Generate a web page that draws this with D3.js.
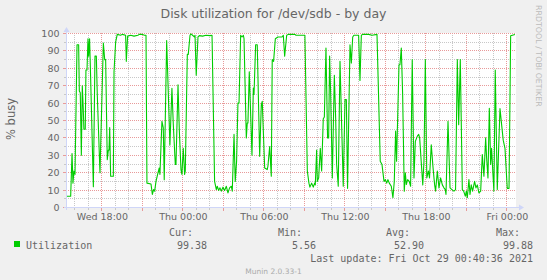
<!DOCTYPE html>
<html><head><meta charset="utf-8">
<script src="https://cdn.jsdelivr.net/npm/d3@7/dist/d3.min.js"></script>
<style>body{margin:0;background:#f0f0f0}</style>
</head><body>
<svg id="c" width="547" height="280"></svg>
<script>
const title = "Disk utilization for /dev/sdb - by day";
const yLabel = "% busy";
const seriesName = "Utilization";
const baseTime = "2021-10-28T00:00:00";   // Thu 00:00
const startTime = "2021-10-27T15:20:36";
const endTime = "2021-10-29T00:40:36";
const hoursFromBase = [
-8.62,-8.56,-8.31,-8.21,-8.14,-8.07,-7.99,-7.84,-7.72,-7.67,-7.60,-7.52,-7.45,-7.38,-7.33,-7.23,-7.18,-7.10,-7.03,-6.98,-6.91,-6.83,-6.63,-6.51,-6.41,-6.34,-6.14,-5.89,-5.79,-5.72,-5.60,-5.52,-5.47,-5.42,-5.35,-5.15,-5.10,-4.98,-4.86,-4.61,-4.49,-4.24,-4.19,-4.09,-3.87,-3.62,-3.33,
-3.23,-2.98,-2.86,-2.73,-2.66,-2.36,-2.26,-2.17,-2.09,-1.99,-1.87,-1.75,-1.70,-1.55,-1.45,-1.38,-1.20,-0.96,-0.81,-0.71,-0.56,-0.51,-0.36,-0.26,-0.14,-0.07,0.03,0.13,0.18,0.33,0.40,0.53,0.60,0.72,0.85,0.90,0.99,1.12,1.22,1.46,1.71,2.01,
2.16,2.35,2.48,2.55,2.65,2.75,2.85,2.97,3.09,3.22,3.34,3.46,3.59,3.66,3.79,3.88,3.98,4.08,4.16,4.28,4.38,4.48,4.53,4.70,4.77,4.82,4.92,5.12,5.22,5.27,5.39,5.51,5.69,5.81,5.88,6.06,6.25,6.30,6.43,6.55,6.62,6.72,6.85,7.04,7.34,
7.44,7.54,7.69,7.81,8.06,8.30,8.38,8.67,8.97,9.04,9.22,9.34,9.41,9.54,9.66,9.76,9.81,9.91,9.96,10.06,10.18,10.28,10.40,10.48,10.60,10.72,10.80,10.87,10.95,11.07,11.22,11.32,11.39,11.51,11.64,11.88,12.01,12.11,12.20,12.38,12.48,12.58,12.67,
13.02,13.12,13.22,13.32,13.76,14.01,14.38,14.62,14.75,14.90,15.00,15.10,15.19,15.29,15.44,15.56,15.66,15.76,15.83,16.01,16.08,16.18,16.28,16.40,16.48,16.55,16.65,16.77,16.87,16.99,17.12,17.22,17.37,17.47,17.54,17.67,17.77,17.86,17.96,
18.07,18.19,18.27,18.40,18.53,18.65,18.72,18.85,18.97,19.09,19.22,19.34,19.44,19.49,19.64,19.79,19.93,20.08,20.20,20.33,20.43,20.55,20.70,20.80,20.92,21.00,21.07,21.19,21.27,21.36,21.46,21.61,21.71,21.81,21.93,22.06,22.18,22.30,22.43,22.50,22.60,22.70,22.80,22.87,22.97,23.04,23.14,23.29,
23.49,23.73,23.86,24.03,24.16,24.28,24.60
];
const utilization = [
6.5,6.5,6.5,31,14,21,19,93.5,93.5,67,66,30,70,57,45,45,79,79,97,87,97,74,12,87,87,65,20,94.5,85,85,27.5,33,33,46,18,18,78,95,99.5,99,99.5,99,84,98.5,99,98.5,99,
99.5,99.5,99,99,14,13.5,7.5,10.3,9.4,15,19,22.7,19,49.5,45.7,16,96,36,68.5,48,24.7,24.7,70.5,44,21.8,19,34,19,21,88,88,99,99.8,99,98,99,76,98,98.8,98.5,99,98.8,
99,15,10.3,12.2,9.8,11.3,9.4,11.7,9.8,12.2,8.4,11.3,12.2,9.4,42,15,26.6,60,60,99,98,99,97,40,48.6,48.6,78,30,68.6,65,93.5,93.5,29.4,59,61,22.7,21.8,23.7,35,18,85,84,97,98,98,
99,87,99,99.5,99.5,99.5,99,99,99,99,21,14,11.7,14,11.7,14,13,33,15,17,34,21,51,52,91.6,40,40,87,65,17,76,51,25,12.2,84,12.2,62,62,11,93.5,83,98,99,
99,73,99,99.5,99.5,99,99.5,26.6,24.7,15,16,14,16,14,12.2,5.6,15,44,26.6,82,82,91.6,65,9.4,20,13.2,16,15,12.2,85,17,38,41,42,40,24.7,13,26.6,85,
17,21,17,36,23,13,9.4,21,11.3,17,13,11.3,10.3,7.5,49.5,11.3,10.3,9.4,10.3,85,47.6,85,10.3,9.4,6.5,9.4,5.6,16,7.5,13,9.4,15,11.3,13,8.4,9.4,30.4,18,40,28.5,17,57,24.7,34,19,9.4,79,10.3,
56.8,38.7,34,11,11,98.7,99.4
];
const yTicks = [0,10,20,30,40,50,60,70,80,90,100];
const xTickFormat = "%a %H:%M";
const statNames = ["Cur:","Min:","Avg:","Max:"];
const statValues = ["99.38","5.56","52.90","99.88"];
const lastUpdate = "Last update: Fri Oct 29 00:40:36 2021";
const version = "Munin 2.0.33-1";
const watermark = "RRDTOOL / TOBI OETIKER";

const svg = d3.select("#c");
const FONT = "#666666", AXIS = "#CFD6F8", GREEN = "#00CC00";
const L = 66, R = 516, T = 33, B = 208;
svg.append("rect").attr("width",547).attr("height",280).attr("fill","#F0F0F0");
svg.append("rect").attr("x",L).attr("y",T).attr("width",R-L).attr("height",B-T).attr("fill","#FFFFFF");

const base = new Date(baseTime);
const pts = hoursFromBase.map((h,i)=>({t:new Date(base.getTime()+h*3600e3), v:utilization[i]}));
const x = d3.scaleTime().domain([new Date(startTime), new Date(endTime)]).range([L, R]);
const y = d3.scaleLinear().domain([0,100]).range([207.5, 33.5]);
const px = v => Math.round(v - 0.5) + 0.5;

const g = svg.append("g");
// minor horizontal (every 5)
d3.range(5,100,10).forEach(v=>{
  g.append("line").attr("x1",L).attr("x2",R).attr("y1",px(y(v))).attr("y2",px(y(v)))
   .attr("stroke","#C8C8C8").attr("stroke-dasharray","1,1");
  g.append("line").attr("x1",L-2).attr("x2",L).attr("y1",px(y(v))).attr("y2",px(y(v))).attr("stroke","#C8C8C8");
});
// vertical hours
const hours = d3.timeHour.range(new Date(startTime), new Date(endTime));
hours.forEach(h=>{
  const major = h.getHours()%3===0;
  const xx = px(x(h));
  g.append("line").attr("x1",xx).attr("x2",xx).attr("y1",T).attr("y2",B)
   .attr("stroke", major? "#E89A9A" : "#C8C8C8").attr("stroke-dasharray","1,1");
  g.append("line").attr("x1",xx).attr("x2",xx).attr("y1",B).attr("y2",B+(major?3:2))
   .attr("stroke", major? "#E89A9A" : "#C8C8C8");
});
// major horizontal
yTicks.forEach(v=>{
  g.append("line").attr("x1",L).attr("x2",R).attr("y1",px(y(v))).attr("y2",px(y(v)))
   .attr("stroke","#E89A9A").attr("stroke-dasharray","1,1");
  g.append("line").attr("x1",L-3).attr("x2",L).attr("y1",px(y(v))).attr("y2",px(y(v))).attr("stroke","#E89A9A");
});

// data line
svg.append("path").datum(pts)
  .attr("d", d3.line().x(d=>x(d.t)).y(d=>y(d.v)))
  .attr("fill","none").attr("stroke",GREEN).attr("stroke-width",1.1).attr("stroke-linejoin","round");

// axes
svg.append("line").attr("x1",L-2).attr("x2",520).attr("y1",207.5).attr("y2",207.5).attr("stroke",AXIS);
svg.append("line").attr("x1",L+0.5).attr("x2",L+0.5).attr("y1",210).attr("y2",30).attr("stroke",AXIS);
svg.append("path").attr("d","M524,207.5 L519,204.5 L519,210.5 Z").attr("fill",AXIS);
svg.append("path").attr("d","M66.5,27 L63.5,32 L69.5,32 Z").attr("fill",AXIS);

// y labels
const yAxis = d3.axisLeft(y).tickValues(yTicks).tickSize(0).tickPadding(6);
const ya = svg.append("g").attr("transform",`translate(${L},0)`).call(yAxis);
ya.select(".domain").remove();
ya.selectAll("text").attr("font-family","DejaVu Sans").attr("font-size","9.5px").attr("fill",FONT).attr("x",-6.5);

// x labels
const labelTimes = hours.filter(h=>h.getHours()%6===0);
const xAxis = d3.axisBottom(x).tickValues(labelTimes).tickFormat(d3.timeFormat(xTickFormat)).tickSize(0).tickPadding(5);
const xa = svg.append("g").attr("transform",`translate(0,${B})`).call(xAxis);
xa.select(".domain").remove();
xa.selectAll("text").attr("font-family","DejaVu Sans").attr("font-size","9.5px").attr("fill",FONT);

// title
svg.append("text").attr("x",273.5).attr("y",17.5).attr("text-anchor","middle")
  .attr("font-family","DejaVu Sans").attr("font-size","12.5px").attr("fill",FONT).text(title);
// y label
svg.append("text").attr("transform","translate(15,119) rotate(-90)").attr("text-anchor","middle")
  .attr("font-family","DejaVu Sans").attr("font-size","11.5px").attr("fill",FONT).text(yLabel);
// watermark
svg.append("text").attr("transform","translate(535.5,5) rotate(90)").attr("text-anchor","start")
  .attr("font-family","DejaVu Sans").attr("font-size","7.9px").attr("fill","#BBBBBB").text(watermark);

// legend
const mono = "DejaVu Sans Mono";
svg.append("rect").attr("x",14).attr("y",241).attr("width",6).attr("height",6).attr("fill",GREEN);
svg.append("text").attr("x",26).attr("y",249).attr("font-family",mono).attr("font-size","10px").attr("fill",FONT).text(seriesName);
const labelEnds = [193,302,410,520], valueEnds = [207,316,424,533];
statNames.forEach((s,i)=>{
  svg.append("text").attr("x",labelEnds[i]).attr("y",236).attr("text-anchor","end")
   .attr("font-family",mono).attr("font-size","10px").attr("fill",FONT).text(s);
  svg.append("text").attr("x",valueEnds[i]).attr("y",249).attr("text-anchor","end")
   .attr("font-family",mono).attr("font-size","10px").attr("fill",FONT).text(statValues[i]);
});
svg.append("text").attr("x",533).attr("y",262).attr("text-anchor","end")
  .attr("font-family",mono).attr("font-size","10px").attr("fill",FONT).text(lastUpdate);
svg.append("text").attr("x",273.5).attr("y",274).attr("text-anchor","middle")
  .attr("font-family","DejaVu Sans").attr("font-size","7.5px").attr("fill","#AAAAAA").text(version);
</script>
</body></html>
